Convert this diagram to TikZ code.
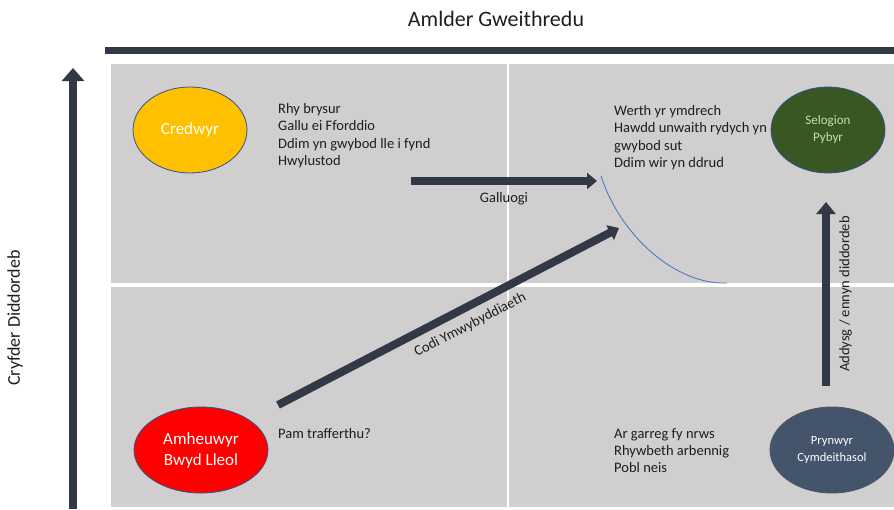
\documentclass[tikz,border=0pt]{standalone}
\usepackage{fontspec}
\setmainfont{Carlito}
\usepackage{tikz}
\usetikzlibrary{arrows.meta,shapes.geometric,positioning}

\definecolor{barDark}{RGB}{50,56,70}
\definecolor{quadGray}{RGB}{208,206,206}
\definecolor{textDark}{RGB}{30,30,30}
\definecolor{edgeBlue}{RGB}{47,82,143}
\definecolor{credGold}{RGB}{255,192,0}
\definecolor{selGreen}{RGB}{56,87,35}
\definecolor{selText}{RGB}{197,224,180}
\definecolor{prySlate}{RGB}{68,84,106}
\definecolor{arcBlue}{RGB}{68,114,196}

\tikzset{
  bigarrow/.style={draw=barDark, line width=8pt, -{Triangle[width=16pt,length=10pt]}},
  quadtext/.style={anchor=north west, align=left, inner sep=0pt, text=textDark,
    font=\fontsize{14.5}{17.4}\selectfont},
  arrowlabel/.style={text=textDark, font=\fontsize{14.5}{16}\selectfont},
  blob/.style={ellipse, minimum width=114pt, minimum height=86pt, inner sep=0pt,
    draw=edgeBlue, line width=0.8pt, align=center, font=\fontsize{13}{17}\selectfont},
  axislabel/.style={text=textDark, font=\fontsize{18}{20}\selectfont}
}

\begin{document}
\begin{tikzpicture}[x=1pt,y=-1pt]
  \useasboundingbox (0,0) rectangle (894,509);

  \fill[quadGray] (111,64) rectangle (894,507);
  \draw[white, line width=4pt] (111,285) -- (894,285);
  \draw[white, line width=2pt] (508,64) -- (508,507);

  \draw[barDark, line width=7pt] (105,50) -- (894,50);
  \draw (496,19) node[axislabel, font=\fontsize{22}{24}\selectfont] (topTitle) {Amlder Gweithredu};

  \coordinate (lftBot) at (73,509);
  \coordinate (lftTop) at (73,68);
  \draw[bigarrow, -{Triangle[width=22pt,length=13pt]}] (lftBot) -- (lftTop);
  \draw (15,318) node[axislabel, rotate=90] (sideTitle) {Cryfder Diddordeb};

  \draw (190,130) node[blob, fill=credGold, text=white, font=\fontsize{17}{21}\selectfont] (credwyr) {Credwyr};
  \draw (828,130) node[blob, fill=selGreen, text=selText] (selogion) {Selogion\\Pybyr};
  \draw (201,450) node[blob, fill=red, text=white, minimum width=134pt, font=\fontsize{17}{21}\selectfont] (amheuwyr) {Amheuwyr\\Bwyd Lleol};
  \draw (832,450) node[blob, fill=prySlate, text=white, draw=prySlate, minimum width=124pt, font=\fontsize{12.5}{17}\selectfont] (prynwyr) {Prynwyr\\Cymdeithasol};

  \draw (278,103) node[quadtext] (credNotes) {Rhy brysur\\Gallu ei Fforddio\\Ddim yn gwybod lle i fynd\\Hwylustod};
  \draw (614,105) node[quadtext] (selNotes) {Werth yr ymdrech\\Hawdd unwaith rydych yn\\gwybod sut\\Ddim wir yn ddrud};
  \draw (278,428) node[quadtext] (amhNotes) {Pam trafferthu?};
  \draw (614,428) node[quadtext] (pryNotes) {Ar garreg fy nrws\\Rhywbeth arbennig\\Pobl neis};

  \coordinate (galA) at (411,181);
  \coordinate (galB) at (597,181);
  \coordinate (codiA) at (278,405);
  \coordinate (codiB) at (619,228);
  \coordinate (addA) at (826,386);
  \coordinate (addB) at (826,202);
  \coordinate (arcA) at (601,176);
  \coordinate (arcB) at (727,283);

  \draw[bigarrow] (galA) -- node[below=4pt, arrowlabel] (galLbl) {Galluogi} (galB);
  \draw[bigarrow] (codiA) -- node[pos=0.54, sloped, below=4pt, arrowlabel] (codiLbl) {Codi Ymwybyddiaeth} (codiB);
  \draw[bigarrow, -{Triangle[width=19pt,length=12pt]}] (addA) -- node[sloped, below=6pt, arrowlabel] (addLbl) {Addysg / ennyn diddordeb} (addB);

  \draw[arcBlue, line width=0.8pt] (arcA) .. controls (620,235) and (675,285) .. (arcB);
\end{tikzpicture}
\end{document}
